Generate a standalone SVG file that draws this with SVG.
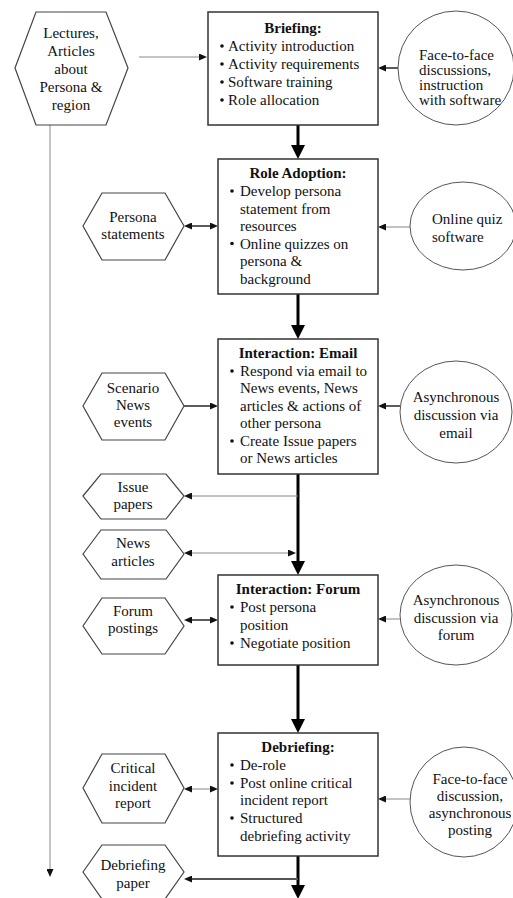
<svg xmlns="http://www.w3.org/2000/svg" width="513" height="898" viewBox="0 0 513 898">
<style>
.t{font-family:"Liberation Serif","Times New Roman",serif;font-size:15px;fill:#111}
.b{font-weight:bold}
.c{text-anchor:middle}
.box{fill:#fff;stroke:#333;stroke-width:1.5}
.hex{fill:#fff;stroke:#444;stroke-width:1.2}
.ell{fill:#fff;stroke:#555;stroke-width:1}
.main{stroke:#000;stroke-width:3;fill:none}
.thin{stroke:#888;stroke-width:1;fill:none}
.mid{stroke:#333;stroke-width:1.6;fill:none}
.dot{fill:#111}
</style>
<defs>
<marker id="a" viewBox="0 0 8 7" refX="0" refY="3.5" markerWidth="8" markerHeight="7" markerUnits="userSpaceOnUse" orient="auto-start-reverse"><path d="M0,0 L8,3.5 L0,7 z" fill="#111"/></marker>
<marker id="m" viewBox="0 0 14 14" refX="0" refY="7" markerWidth="14" markerHeight="14" markerUnits="userSpaceOnUse" orient="auto"><path d="M0,0 L14,7 L0,14 z" fill="#000"/></marker>
</defs>

<g id="connectors">
<line class="thin" x1="139" y1="57" x2="199" y2="57" marker-end="url(#a)"/>
<line class="mid" x1="398" y1="68" x2="386" y2="68" marker-end="url(#a)"/>
<line class="main" x1="298" y1="125" x2="298" y2="145" marker-end="url(#m)"/>
<line class="mid" x1="192" y1="226" x2="210" y2="226" marker-start="url(#a)" marker-end="url(#a)"/>
<line class="thin" x1="410" y1="227" x2="386" y2="227" marker-end="url(#a)"/>
<line class="main" x1="298" y1="294" x2="298" y2="325" marker-end="url(#m)"/>
<line class="mid" x1="184" y1="406" x2="210" y2="406" marker-end="url(#a)"/>
<line class="mid" x1="400" y1="406" x2="386" y2="406" marker-end="url(#a)"/>
<line class="main" x1="298" y1="474" x2="298" y2="561" marker-end="url(#m)"/>
<line class="thin" x1="298" y1="496" x2="192" y2="496" marker-end="url(#a)"/>
<line class="thin" x1="192" y1="553" x2="288" y2="553" marker-start="url(#a)" marker-end="url(#a)"/>
<line class="mid" x1="192" y1="620" x2="210" y2="620" marker-start="url(#a)" marker-end="url(#a)"/>
<line class="thin" x1="400" y1="619" x2="386" y2="619" marker-end="url(#a)"/>
<line class="main" x1="298" y1="665" x2="298" y2="719" marker-end="url(#m)"/>
<line class="thin" x1="192" y1="789" x2="210" y2="789" marker-start="url(#a)" marker-end="url(#a)"/>
<line class="thin" x1="410" y1="799" x2="386" y2="799" marker-end="url(#a)"/>
<line class="thin" x1="50" y1="125" x2="50" y2="869" marker-end="url(#a)"/>
<line class="main" x1="298" y1="856" x2="298" y2="885" marker-end="url(#m)"/>
<line stroke="#555" stroke-width="2" x1="298" y1="879" x2="192" y2="879" marker-end="url(#a)"/>
</g>

<g id="lectures">
<polygon class="hex" points="15,68 36,12 106,12 128,68 106,125 36,125"/>
<text class="t c" x="71" y="38">Lectures,</text>
<text class="t c" x="71" y="56">Articles</text>
<text class="t c" x="71" y="74">about</text>
<text class="t c" x="71" y="92">Persona &amp;</text>
<text class="t c" x="71" y="110">region</text>
</g>

<g id="briefing">
<rect class="box" x="208" y="12" width="170" height="113"/>
<text class="t b c" x="293" y="33">Briefing:</text>
<circle class="dot" cx="222" cy="46" r="1.8"/><text class="t" x="228" y="51">Activity introduction</text>
<circle class="dot" cx="222" cy="64" r="1.8"/><text class="t" x="228" y="69">Activity requirements</text>
<circle class="dot" cx="222" cy="82" r="1.8"/><text class="t" x="228" y="87">Software training</text>
<circle class="dot" cx="222" cy="100" r="1.8"/><text class="t" x="228" y="105">Role allocation</text>
</g>

<g id="face1">
<ellipse class="ell" cx="456" cy="68" rx="58" ry="57"/>
<text class="t" x="419" y="60">Face-to-face</text>
<text class="t" x="419" y="75">discussions,</text>
<text class="t" x="419" y="90">instruction</text>
<text class="t" x="419" y="105">with software</text>
</g>

<g id="role">
<rect class="box" x="218" y="159" width="160" height="135"/>
<text class="t b c" x="298" y="178">Role Adoption:</text>
<circle class="dot" cx="232" cy="191" r="1.8"/><text class="t" x="240" y="196">Develop persona</text>
<text class="t" x="240" y="213.5">statement from</text>
<text class="t" x="240" y="231">resources</text>
<circle class="dot" cx="232" cy="243.5" r="1.8"/><text class="t" x="240" y="248.5">Online quizzes on</text>
<text class="t" x="240" y="266">persona &amp;</text>
<text class="t" x="240" y="283.5">background</text>
</g>

<g id="persona">
<polygon class="hex" points="83,226 102,193 165,193 184,226 165,260 102,260"/>
<text class="t c" x="133" y="222">Persona</text>
<text class="t c" x="133" y="239">statements</text>
</g>

<g id="quiz">
<ellipse class="ell" cx="463" cy="226" rx="53" ry="44"/>
<text class="t" x="432" y="224">Online quiz</text>
<text class="t" x="432" y="242">software</text>
</g>

<g id="email">
<rect class="box" x="218" y="339" width="160" height="135"/>
<text class="t b c" x="298" y="358">Interaction: Email</text>
<circle class="dot" cx="232" cy="371" r="1.8"/><text class="t" x="240" y="376">Respond via email to</text>
<text class="t" x="240" y="393">News events, News</text>
<text class="t" x="240" y="411">articles &amp; actions of</text>
<text class="t" x="240" y="428">other persona</text>
<circle class="dot" cx="232" cy="441" r="1.8"/><text class="t" x="240" y="446">Create Issue papers</text>
<text class="t" x="240" y="463">or News articles</text>
</g>

<g id="scenario">
<polygon class="hex" points="83,406 102,373 165,373 184,406 165,440 102,440"/>
<text class="t c" x="133" y="392.5">Scenario</text>
<text class="t c" x="133" y="410">News</text>
<text class="t c" x="133" y="427">events</text>
</g>

<g id="async-email">
<ellipse class="ell" cx="456" cy="412" rx="56" ry="51"/>
<text class="t c" x="456" y="402">Asynchronous</text>
<text class="t c" x="456" y="420">discussion via</text>
<text class="t c" x="456" y="438">email</text>
</g>

<g id="issue">
<polygon class="hex" points="83,496 101,474 166,474 184,496 166,519 101,519"/>
<text class="t c" x="133" y="492">Issue</text>
<text class="t c" x="133" y="509">papers</text>
</g>

<g id="news">
<polygon class="hex" points="83,554 101,530 166,530 184,554 166,579 101,579"/>
<text class="t c" x="133" y="548">News</text>
<text class="t c" x="133" y="566">articles</text>
</g>

<g id="forum">
<rect class="box" x="218" y="575" width="160" height="90"/>
<text class="t b c" x="298" y="594">Interaction: Forum</text>
<circle class="dot" cx="232" cy="607" r="1.8"/><text class="t" x="240" y="612">Post persona</text>
<text class="t" x="240" y="630">position</text>
<circle class="dot" cx="232" cy="643" r="1.8"/><text class="t" x="240" y="648">Negotiate position</text>
</g>

<g id="forum-postings">
<polygon class="hex" points="83,626 102,598 165,598 184,626 165,654 102,654"/>
<text class="t c" x="133" y="616">Forum</text>
<text class="t c" x="133" y="633">postings</text>
</g>

<g id="async-forum">
<ellipse class="ell" cx="456" cy="615" rx="56" ry="50"/>
<text class="t c" x="456" y="605">Asynchronous</text>
<text class="t c" x="456" y="623">discussion via</text>
<text class="t c" x="456" y="640">forum</text>
</g>

<g id="debriefing">
<rect class="box" x="218" y="733" width="160" height="123"/>
<text class="t b c" x="298" y="752">Debriefing:</text>
<circle class="dot" cx="232" cy="765" r="1.8"/><text class="t" x="240" y="770">De-role</text>
<circle class="dot" cx="232" cy="783" r="1.8"/><text class="t" x="240" y="788">Post online critical</text>
<text class="t" x="240" y="805">incident report</text>
<circle class="dot" cx="232" cy="818" r="1.8"/><text class="t" x="240" y="823">Structured</text>
<text class="t" x="240" y="841">debriefing activity</text>
</g>

<g id="critical">
<polygon class="hex" points="83,788 102,754 165,754 184,788 165,823 102,823"/>
<text class="t c" x="133" y="773">Critical</text>
<text class="t c" x="133" y="791">incident</text>
<text class="t c" x="133" y="808">report</text>
</g>

<g id="face2">
<ellipse class="ell" cx="464" cy="802" rx="54" ry="55"/>
<text class="t c" x="470" y="784">Face-to-face</text>
<text class="t c" x="470" y="801">discussion,</text>
<text class="t c" x="470" y="818">asynchronous</text>
<text class="t c" x="470" y="835">posting</text>
</g>

<g id="debrief-paper">
<polygon class="hex" points="83,872 102,845 165,845 184,872 165,899 102,899"/>
<text class="t c" x="133" y="870">Debriefing</text>
<text class="t c" x="133" y="888">paper</text>
</g>
</svg>
